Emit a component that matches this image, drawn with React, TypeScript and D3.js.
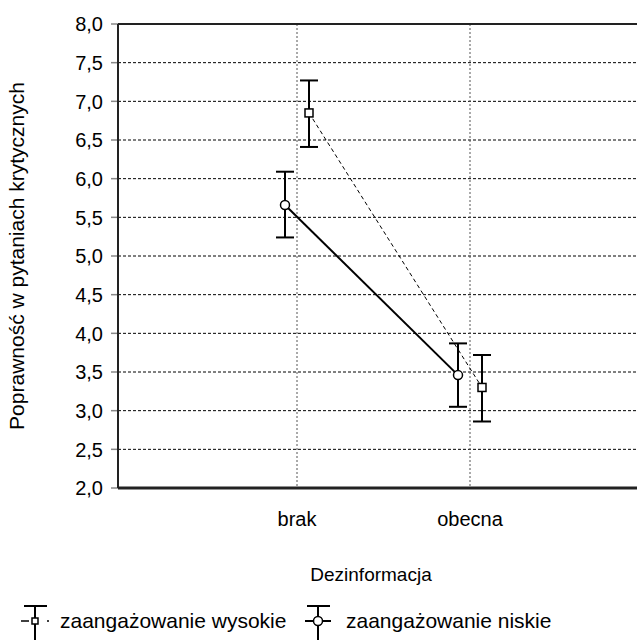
import * as d3 from 'd3'

const categories = ['brak', 'obecna']
const seriesNames = ['zaangażowanie wysokie', 'zaangażowanie niskie']
const highMean = [6.85, 3.3]
const highUpper = [7.27, 3.72]
const highLower = [6.41, 2.86]
const lowMean = [5.66, 3.46]
const lowUpper = [6.09, 3.87]
const lowLower = [5.24, 3.05]
const yTicks = [2.0, 2.5, 3.0, 3.5, 4.0, 4.5, 5.0, 5.5, 6.0, 6.5, 7.0, 7.5, 8.0]

const W = 637
const H = 641
const margin = { top: 24, right: 0, bottom: 153, left: 118 }
const font = 'Liberation Sans, Arial, sans-serif'

export default function App() {
  const innerW = W - margin.left - margin.right
  const innerH = H - margin.top - margin.bottom

  const x = d3.scalePoint<string>().domain(categories).range([6, innerW + 6]).padding(1)
  const y = d3.scaleLinear().domain([2, 8]).range([innerH, 0])
  const off = 12
  const fmt = (v: number) => v.toFixed(1).replace('.', ',')

  const line = d3.line<[number, number]>().x(d => d[0]).y(d => d[1])
  const highPts = categories.map((c, i) => [x(c)! + off, y(highMean[i])] as [number, number])
  const lowPts = categories.map((c, i) => [x(c)! - off, y(lowMean[i])] as [number, number])

  const errBar = (cx: number, lo: number, hi: number, key: string) => (
    <g key={key} stroke="#000" strokeWidth={2}>
      <line x1={cx} x2={cx} y1={y(hi)} y2={y(lo)} />
      <line x1={cx - 9} x2={cx + 9} y1={y(hi)} y2={y(hi)} />
      <line x1={cx - 9} x2={cx + 9} y1={y(lo)} y2={y(lo)} />
    </g>
  )

  return (
    <svg width={W} height={H} style={{ position: 'absolute', left: 0, top: 0, background: '#fff' }} fontFamily={font}>
      <g transform={`translate(${margin.left},${margin.top})`}>
        {yTicks.slice(1, -1).map(t => (
          <line key={t} x1={0} x2={innerW} y1={y(t)} y2={y(t)} stroke="#000" strokeWidth={1} strokeDasharray="3,2" />
        ))}
        {categories.map(c => (
          <line key={c} x1={x(c)} x2={x(c)} y1={0} y2={innerH} stroke="#555" strokeWidth={1} strokeDasharray="2,2" />
        ))}
        <line x1={0} x2={innerW} y1={0} y2={0} stroke="#222" strokeWidth={2} />
        {yTicks.map(t => (
          <g key={'t' + t}>
            <line x1={-7} x2={0} y1={y(t)} y2={y(t)} stroke="#888" strokeWidth={1.5} />
            <text x={-15} y={y(t)} dy="0.36em" textAnchor="end" fontSize={20}>{fmt(t)}</text>
          </g>
        ))}
        <line x1={0} x2={0} y1={0} y2={innerH} stroke="#222" strokeWidth={2} />
        <line x1={0} x2={innerW} y1={innerH} y2={innerH} stroke="#222" strokeWidth={3} />
        {categories.map(c => (
          <text key={'l' + c} x={x(c)} y={innerH + 38} textAnchor="middle" fontSize={20}>{c}</text>
        ))}
        <path d={line(highPts)!} fill="none" stroke="#000" strokeWidth={1} strokeDasharray="4,3" />
        <path d={line(lowPts)!} fill="none" stroke="#000" strokeWidth={2} />
        {categories.map((c, i) => errBar(x(c)! - off, lowLower[i], lowUpper[i], 'el' + i))}
        {categories.map((c, i) => errBar(x(c)! + off, highLower[i], highUpper[i], 'eh' + i))}
        {lowPts.map((p, i) => (
          <circle key={'cl' + i} cx={p[0]} cy={p[1]} r={4.5} fill="#fff" stroke="#000" strokeWidth={1.5} />
        ))}
        {highPts.map((p, i) => (
          <rect key={'rh' + i} x={p[0] - 4} y={p[1] - 4} width={8} height={8} fill="#fff" stroke="#000" strokeWidth={1.5} />
        ))}
      </g>
      <text x={371} y={581} textAnchor="middle" fontSize={19}>Dezinformacja</text>
      <text transform={`translate(24,${margin.top + innerH / 2}) rotate(-90)`} textAnchor="middle" fontSize={21}>
        Poprawność w pytaniach krytycznych
      </text>
      {/* legend */}
      <g>
        <g stroke="#000" strokeWidth={2}>
          <line x1={35} x2={35} y1={606} y2={640} />
          <line x1={24} x2={47} y1={606} y2={606} />
        </g>
        <line x1={21} x2={29} y1={621} y2={621} stroke="#000" strokeWidth={1.5} />
        <rect x={32} y={618} width={6} height={6} fill="#fff" stroke="#000" strokeWidth={1.5} />
        <circle cx={48} cy={621} r={1} fill="#000" />
        <text x={60} y={628} fontSize={21}>{seriesNames[0]}</text>
        <g stroke="#000" strokeWidth={2}>
          <line x1={318} x2={318} y1={606} y2={640} />
          <line x1={307} x2={330} y1={606} y2={606} />
          <line x1={305} x2={331} y1={621} y2={621} />
        </g>
        <circle cx={318} cy={621} r={4.5} fill="#fff" stroke="#000" strokeWidth={1.5} />
        <text x={346} y={628} fontSize={21}>{seriesNames[1]}</text>
      </g>
    </svg>
  )
}
